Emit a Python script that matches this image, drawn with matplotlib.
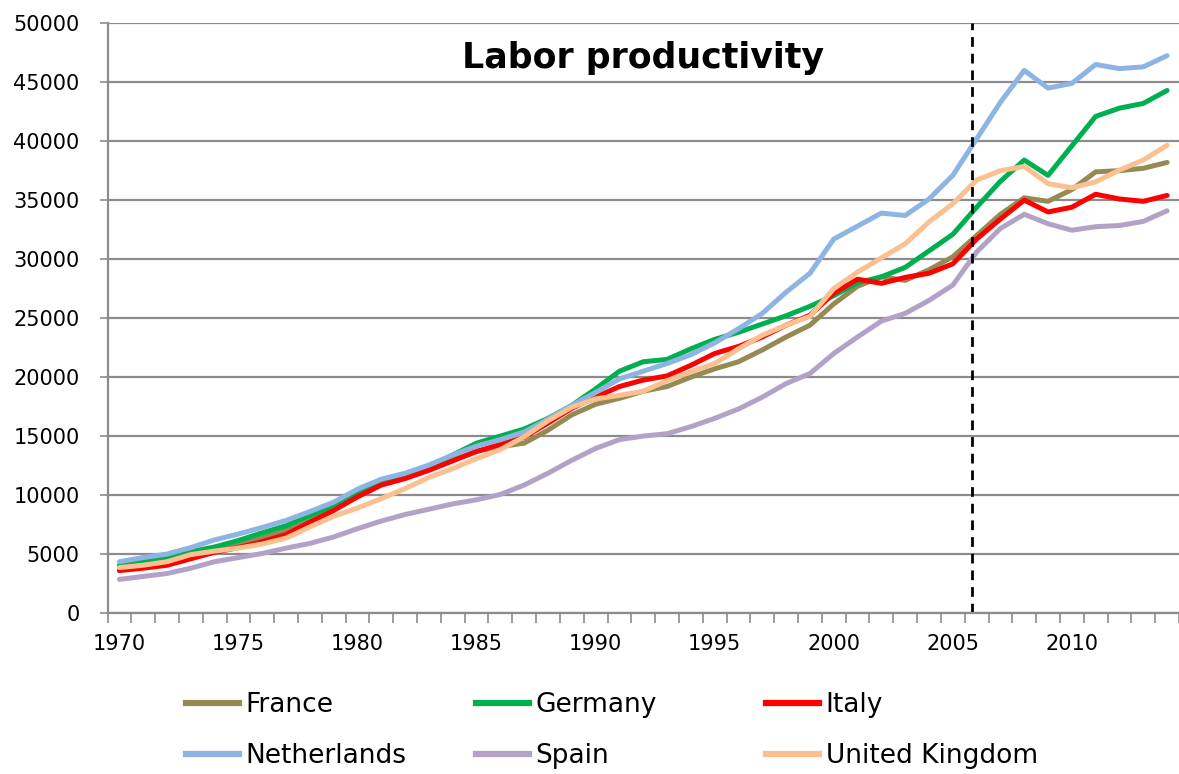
import matplotlib.pyplot as plt
from matplotlib.lines import Line2D

# --- data ---
years = list(range(1970, 2015))

france = [3800, 4100, 4500, 5000, 5500, 5900, 6400, 7000, 7800, 8800,
          9900, 10900, 11500, 12200, 13000, 13700, 14100, 14400, 15500, 16800,
          17700, 18200, 18800, 19200, 20000, 20700, 21300, 22300, 23400, 24400,
          26200, 27700, 28500, 28200, 29100, 30200, 32000, 33800, 35200, 34900,
          35900, 37400, 37500, 37700, 38200]
germany = [4050, 4350, 4650, 5200, 5600, 6150, 6800, 7400, 8250, 9150,
           10200, 11100, 11700, 12400, 13400, 14400, 15000, 15600, 16500, 17600,
           19000, 20500, 21300, 21500, 22400, 23200, 23800, 24500, 25200, 26000,
           26900, 28000, 28500, 29300, 30700, 32100, 34400, 36600, 38400, 37100,
           39600, 42100, 42800, 43200, 44300]
italy = [3600, 3800, 4050, 4600, 5150, 5550, 6050, 6650, 7700, 8700,
         9850, 10850, 11400, 12100, 12900, 13700, 14300, 14900, 16100, 17350,
         18300, 19200, 19750, 20100, 21000, 22000, 22600, 23400, 24400, 25250,
         27100, 28300, 27950, 28450, 28800, 29600, 31700, 33400, 35000, 34000,
         34400, 35500, 35100, 34900, 35400]
netherlands = [4350, 4700, 5000, 5550, 6200, 6700, 7250, 7850, 8600, 9400,
               10500, 11350, 11850, 12550, 13400, 14150, 14700, 15350, 16450, 17600,
               18700, 19850, 20500, 21150, 21900, 22900, 24100, 25400, 27200, 28800,
               31700, 32800, 33900, 33700, 35100, 37100, 40200, 43300, 46000, 44500,
               44900, 46500, 46150, 46300, 47250]
spain = [2850, 3100, 3350, 3800, 4350, 4700, 5050, 5500, 5900, 6450,
         7150, 7800, 8350, 8800, 9250, 9600, 10050, 10850, 11850, 12950,
         13950, 14700, 15000, 15200, 15800, 16500, 17300, 18300, 19450, 20300,
         22000, 23400, 24750, 25400, 26500, 27800, 30600, 32600, 33800, 33000,
         32450, 32750, 32850, 33200, 34100]
uk = [3850, 4050, 4350, 4950, 5250, 5500, 5850, 6350, 7300, 8200,
      8900, 9700, 10550, 11500, 12250, 13100, 13850, 14950, 16300, 17450,
      18150, 18450, 18800, 19700, 20450, 21150, 22400, 23550, 24400, 25150,
      27500, 28900, 30100, 31300, 33150, 34700, 36700, 37500, 37850, 36400,
      36050, 36550, 37550, 38400, 39650]

countries = ["France", "Germany", "Italy", "Netherlands", "Spain", "United Kingdom"]
series = [france, germany, italy, netherlands, spain, uk]
colores = ["#948A54", "#00B050", "#FF0000", "#8DB4E2", "#B3A2C7", "#FAC090"]

# --- figura ---
fig = plt.figure(figsize=(11.79, 7.74), dpi=100)
ax = fig.add_axes([0.0912, 0.208, 0.9088, 0.762])

for vals, col, name in zip(series, colores, countries):
    ax.plot(years, vals, color=col, linewidth=3.6, label=name, solid_capstyle='round')

# linea vertical punteada
ax.axvline(2005.8, color='black', linestyle=(0, (3.5, 2.5)), linewidth=2)

ax.set_xlim(1969.52, 2014.11)
ax.set_ylim(0, 50000)
ax.set_yticks(range(0, 50001, 5000))
ax.yaxis.grid(True, color='#8C8C8C', linewidth=1.6)
ax.set_axisbelow(True)

ax.set_xticks(range(1970, 2011, 5))
ax.set_xticks([y - 0.5 for y in years] + [2014.5], minor=True)
ax.tick_params(axis='x', which='major', length=0, pad=15, labelsize=15)
ax.tick_params(axis='x', which='minor', length=7, width=1.2, color='#8C8C8C')
ax.tick_params(axis='y', length=6, width=1.2, color='#8C8C8C', pad=14, labelsize=15)

for s in ['top', 'right']:
    ax.spines[s].set_visible(False)
for s in ['left', 'bottom']:
    ax.spines[s].set_color('#8C8C8C')
    ax.spines[s].set_linewidth(1.6)

fig.text(0.545, 0.925, 'Labor productivity', fontsize=25, fontweight='bold',
         ha='center', va='center')

# leyenda: una columna por leyenda para fijar la posicion de cada columna
columnas = [[0, 3], [1, 4], [2, 5]]
x_cols = [0.158, 0.404, 0.650]
for idx, xc in zip(columnas, x_cols):
    handles = [Line2D([], [], color=colores[i], linewidth=4.5) for i in idx]
    fig.legend(handles, [countries[i] for i in idx], loc='upper left',
               bbox_to_anchor=(xc, 0.106), frameon=False, fontsize=19,
               handlelength=2.0, handletextpad=0.25, labelspacing=0.95,
               borderaxespad=0, borderpad=0)

fig.savefig('out.png', dpi=100)
